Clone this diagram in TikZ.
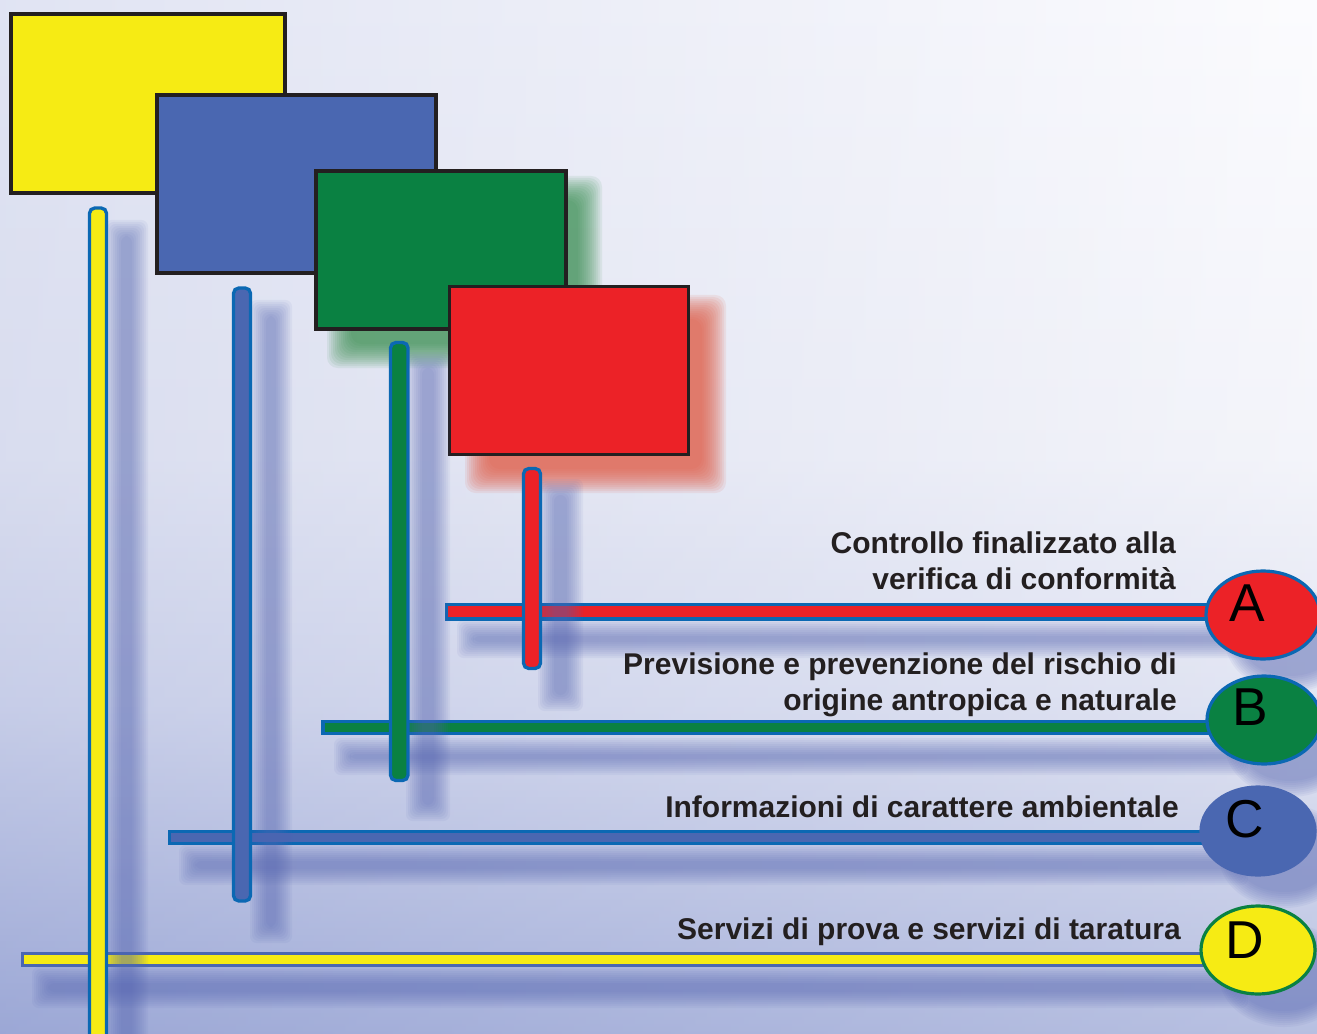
\documentclass[tikz,border=0pt]{standalone}
\usepackage{fontspec}
\setmainfont{Liberation Sans}
\usetikzlibrary{shapes.geometric}
\definecolor{cyellow}{HTML}{F6EB14}
\definecolor{cblue}{HTML}{4A67B1}
\definecolor{cgreen}{HTML}{0A8142}
\definecolor{cred}{HTML}{EC2227}
\definecolor{cdark}{HTML}{231F20}
\definecolor{barblue}{HTML}{0B68B3}
\definecolor{shadowc}{HTML}{5565B2}
\definecolor{greensh}{HTML}{2F8A47}
\definecolor{redsh}{HTML}{E05A44}
\definecolor{bgtop}{HTML}{FBFBFE}
\definecolor{bgma}{HTML}{F1F2F9}
\definecolor{bgmb}{HTML}{DADEF0}
\definecolor{bgbot}{HTML}{A3AED9}
\definecolor{bgleft}{HTML}{8392CC}
\pgfdeclareverticalshading{bgv}{100bp}{color(0bp)=(bgbot); color(25bp)=(bgbot); color(41bp)=(bgmb); color(53bp)=(bgma); color(75bp)=(bgtop); color(100bp)=(bgtop)}
\newcommand\softrect[6][0.07]{\foreach \dd in {-8,-6,...,8}{\fill[#6,fill opacity=#1,rounded corners=5pt] ({#2+\dd},{#3+\dd}) rectangle ({#4-\dd},{#5-\dd});}}
\newcommand\softbox[6][0.08]{\foreach \dd in {-12,-10,...,12}{\fill[#6,fill opacity=#1,rounded corners=8pt] ({#2+\dd},{#3+\dd}) rectangle ({#4-\dd},{#5-\dd});}}
\newcommand\softell[4][0.07]{\foreach \dd in {-8,-6,...,8}{\fill[#4,fill opacity=#1] (#2,#3) ellipse [x radius={57-\dd}, y radius={44-\dd}];}}
\tikzset{
  boxst/.style={draw=cdark, line width=2.4pt, inner sep=0pt},
  vbar/.style={draw=barblue, line width=2.5pt, rounded corners=4pt},
  hbar/.style={draw=barblue, line width=2.3pt},
  ell/.style={ellipse, minimum width=85.5pt, minimum height=66pt, inner sep=0pt, line width=2.4pt},
  letter/.style={inner sep=0pt, font=\fontsize{40}{48}\selectfont, text=black},
  lab/.style={anchor=base east, inner sep=0pt, text=cdark, font=\fontsize{22.5}{27}\selectfont\bfseries}
}
\begin{document}
\begin{tikzpicture}[x=0.75pt, y=-0.75pt]
\useasboundingbox (0,0) rectangle (1317,1034);
% background
\shade[shading=bgv] (0,0) rectangle (1317,1034);
\shade[left color=bgleft, right color=white, fill opacity=0.22] (0,0) rectangle (1317,1034);
\begin{scope}
\clip (0,0) rectangle (1317,1034);
% horizontal bar shadows
\softrect{465}{628}{1240}{650}{shadowc}
\softrect{342}{746}{1240}{767}{shadowc}
\softrect{187}{853}{1240}{877}{shadowc}
\softrect{40}{975}{1240}{1000}{shadowc}
% ellipse shadows
\softell{1290}{640}{shadowc}
\softell{1290}{745}{shadowc}
\softell{1284}{856}{shadowc}
\softell{1284}{975}{shadowc}
% box shadows
\softbox[0.085]{339}{188}{590}{356}{greensh}
\softbox[0.1]{477}{307}{714}{481}{redsh}
% boxes
\node[boxst, fill=cyellow, minimum width=205.5pt, minimum height=134.25pt] (Y) at (148,103.5) {};
\node[boxst, fill=cblue, minimum width=209.25pt, minimum height=133.5pt] (Bl) at (296.5,184) {};
\node[boxst, fill=cgreen, minimum width=187.5pt, minimum height=118.5pt] (G) at (441,250) {};
\node[boxst, fill=cred, minimum width=179.25pt, minimum height=126pt] (R) at (569,370.5) {};
% ellipse centres
\path (1263,615) coordinate (cA) (1264,720) coordinate (cB) (1258,831) coordinate (cC) (1258,950) coordinate (cD);
% horizontal bars
\draw[hbar, fill=cred] (446.5,604.5) rectangle (1240,619);
\draw[hbar, fill=cgreen] (323,721.5) rectangle (1240,733.5);
\draw[hbar, fill=cblue] (169.5,831.5) rectangle (1240,843.5);
\draw[hbar, draw=cblue, fill=cyellow] (22.5,953.5) rectangle (1240,965.5);
% vertical bar shadows
\softrect{113}{228}{140}{1050}{shadowc}
\softrect{258}{308}{284}{935}{shadowc}
\softrect{414}{360}{442}{813}{shadowc}
\softrect{546}{487}{575}{703}{shadowc}
% vertical bars
\draw[vbar, fill=cyellow] (89.5,208) rectangle (106.5,1040);
\draw[vbar, fill=cblue] (233.5,288) rectangle (250.5,901);
\draw[vbar, fill=cgreen] (390.5,342.5) rectangle (408,780.5);
\draw[vbar, fill=cred] (523.5,468.5) rectangle (540.5,668.5);
% ellipses
\node[ell, draw=barblue, fill=cred] (eA) at (cA) {};
\node[ell, draw=barblue, fill=cgreen] (eB) at (cB) {};
\node[ell, draw=cblue, fill=cblue] (eC) at (cC) {};
\node[ell, draw=cgreen, fill=cyellow] (eD) at (cD) {};
\node[letter] (lA) at ([shift={(-16,-12)}]eA.center) {A};
\node[letter] (lB) at ([shift={(-14,-13)}]eB.center) {B};
\node[letter] (lC) at ([shift={(-13,-12)}]eC.center) {C};
\node[letter] (lD) at ([shift={(-13,-10)}]eD.center) {D};
\end{scope}
% labels
\node[lab] (tA1) at (1176,553) {Controllo finalizzato alla};
\node[lab] (tA2) at (1176,589) {verifica di conformità};
\node[lab] (tB1) at (1177,674) {Previsione e prevenzione del rischio di};
\node[lab] (tB2) at (1177,710) {origine antropica e naturale};
\node[lab] (tC) at (1179,817) {Informazioni di carattere ambientale};
\node[lab] (tD) at (1181,939) {Servizi di prova e servizi di taratura};
\end{tikzpicture}
\end{document}
